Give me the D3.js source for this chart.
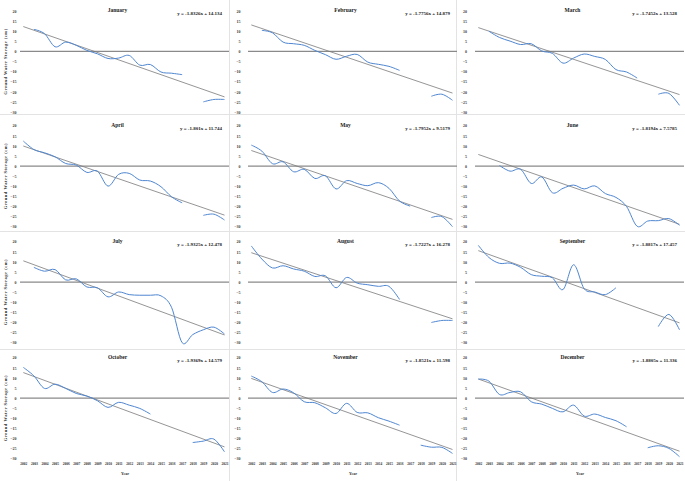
<!DOCTYPE html>
<html><head><meta charset="utf-8">
<script src="https://cdn.jsdelivr.net/npm/d3@7"></script>
<style>body{margin:0;background:#fff}svg{display:block}</style>
</head><body><svg id="c" width="685" height="481"></svg>
<script>
const years = ["2002","2003","2004","2005","2006","2007","2008","2009","2010","2011","2012","2013","2014","2015","2016","2017","2018","2019","2020","2021"];
const months = ["January","February","March","April","May","June","July","August","September","October","November","December"];
const equations = ["y = -1.8326x + 14.134","y = -1.7756x + 14.879","y = -1.7452x + 13.528","y = -1.801x + 11.744","y = -1.7952x + 9.5179","y = -1.8194x + 7.5785","y = -1.9325x + 12.478","y = -1.7227x + 16.278","y = -1.8817x + 17.457","y = -1.9369x + 14.579","y = -1.8521x + 11.598","y = -1.8805x + 11.336"];
const slopes = [-1.8326,-1.7756,-1.7452,-1.801,-1.7952,-1.8194,-1.9325,-1.7227,-1.8817,-1.9369,-1.8521,-1.8805];
const intercepts = [14.134,14.879,13.528,11.744,9.5179,7.5785,12.478,16.278,17.457,14.579,11.598,11.336];
const yTicks = [20,15,10,5,0,-5,-10,-15,-20,-25,-30];

const jan = [null,10.9,8.8,2.3,4.6,3.0,0.5,-1.2,-3.5,-3.3,-2.0,-6.8,-6.5,-10.2,-10.8,-11.5,null,-25.0,-23.8,-23.8];
const feb = [null,10.4,9.2,4.6,3.8,3.0,0.5,-1.6,-3.9,-2.4,-1.5,-5.3,-6.4,-7.4,-9.4,null,null,-22.2,-21.2,-24.2];
const mar = [null,10.0,6.9,5.1,3.4,3.8,0.2,-1.0,-5.8,-3.3,-1.3,-2.5,-4.0,-9.0,-10.2,-13.2,null,-21.2,-20.8,-26.7];
const apr = [12.4,8.2,6.6,4.6,1.3,0.5,-3.1,-2.5,-9.9,-4.1,-3.6,-6.9,-7.4,-10.2,-15.2,-18.2,null,-24.4,-23.8,-26.7];
const may = [10.4,7.4,1.2,2.1,-2.8,-1.6,-6.1,-4.8,-11.3,-7.2,-8.6,-9.7,-8.2,-11.0,-17.3,-19.8,null,-25.5,-25.0,-30.0];
const jun = [null,null,0.3,-2.5,-1.6,-8.6,-5.4,-13.2,-11.0,-9.4,-11.3,-9.8,-13.6,-15.5,-20.0,-29.8,-27.2,-27.0,-26.0,-29.3];
const jul = [null,7.3,5.4,6.2,1.1,1.6,-2.4,-2.8,-7.3,-4.9,-6.2,-6.5,-6.5,-6.8,-12.5,-30.0,-26.0,-23.6,-22.3,-25.7];
const aug = [17.9,11.4,7.0,8.1,6.5,5.4,2.8,3.1,-2.8,2.3,-0.5,-1.3,-2.1,-2.1,-8.6,null,null,-20.0,-19.0,-19.0];
const sep = [18.2,12.2,9.3,9.4,7.3,3.7,2.9,2.1,-3.7,8.6,-3.3,-4.9,-6.2,-2.8,null,null,null,-22.0,-16.0,-23.6];
const oct = [15.2,11.0,4.8,6.9,4.8,2.3,1.0,-1.3,-4.6,-2.1,-3.5,-5.1,-7.9,null,null,null,-22.0,-21.3,-20.3,-26.6];
const nov = [10.9,8.1,2.8,4.5,2.6,-1.8,-2.3,-4.8,-7.6,-2.6,-7.1,-7.3,-9.7,-11.4,-13.4,null,-23.3,-24.3,-24.4,-27.4];
const dec = [9.4,8.4,1.8,2.8,3.1,-1.8,-3.0,-5.1,-6.8,-3.5,-8.9,-7.9,-9.6,-11.2,-14.2,null,-24.6,-23.6,-24.9,-29.0];
const series = [jan,feb,mar,apr,may,jun,jul,aug,sep,oct,nov,dec];

const serif = "'Liberation Serif','Times New Roman',serif";
const svg = d3.select("#c");
const colX = [0, 228, 455];
const rowTop = [11, 125.7, 241.7, 357.7];
const tickX = [16.5, 12.5, 12];

// panel separators
[229.5, 456.5].forEach(px => svg.append("line").attr("x1",px).attr("x2",px).attr("y1",0).attr("y2",481).attr("stroke","#e3e3e3").attr("stroke-width",1));
[114.5, 231.5, 349.5].forEach(py => svg.append("line").attr("x1",0).attr("x2",685).attr("y1",py).attr("y2",py).attr("stroke","#e3e3e3").attr("stroke-width",1));

months.forEach((m, k) => {
  const c = k % 3, r = Math.floor(k / 3);
  const X0 = colX[c], top = rowTop[r];
  const x = d3.scalePoint().domain(years).range([X0 + 23.3, X0 + 224.5]);
  const y = d3.scaleLinear().domain([-30, 20]).range([top + 101, top]);
  const g = svg.append("g");

  const ax = g.append("g").attr("transform", `translate(${X0 + tickX[c]},0)`)
    .call(d3.axisLeft(y).tickValues(yTicks).tickSize(0).tickPadding(0));
  ax.select(".domain").remove();
  ax.selectAll("text").attr("font-family", serif).attr("font-weight", "bold").attr("font-size", 4).attr("fill", "#404040");

  g.append("line").attr("x1", X0 + 20).attr("x2", X0 + 229)
    .attr("y1", y(0)).attr("y2", y(0)).attr("stroke", "#8a8a8a").attr("stroke-width", 1.1);

  const trendPts = [0, years.length - 1].map(i => [years[i], slopes[k] * (i + 1) + intercepts[k]]);
  g.append("path").datum(trendPts)
    .attr("d", d3.line().x(d => x(d[0])).y(d => y(d[1])))
    .attr("fill", "none").attr("stroke", "#7a7a7a").attr("stroke-width", 0.8);

  const pts = years.map((yr, i) => [yr, series[k][i]]);
  g.append("path").datum(pts)
    .attr("d", d3.line().defined(d => d[1] != null).x(d => x(d[0])).y(d => y(d[1])).curve(d3.curveCardinal.tension(0)))
    .attr("fill", "none").attr("stroke", "#4f86d1").attr("stroke-width", 1);

  g.append("text").attr("x", X0 + 117.5).attr("y", top + 0.8).attr("text-anchor", "middle")
    .attr("font-family", serif).attr("font-weight", "bold").attr("font-size", 5.5).attr("fill", "#222").text(m);
  g.append("text").attr("x", X0 + 222).attr("y", top + 4.2).attr("text-anchor", "end")
    .attr("font-family", serif).attr("font-weight", "bold").attr("font-size", 5).attr("fill", "#222").text(equations[k]);

  if (c === 0) {
    g.append("text").attr("transform", `translate(5,${top + 50.5}) rotate(-90)`)
      .attr("text-anchor", "middle").attr("dominant-baseline", "central")
      .attr("font-family", serif).attr("font-weight", "bold").attr("font-size", 4.6).attr("letter-spacing", 0.45)
      .attr("fill", "#333").text("Ground Water Storage (cm)");
  }
  if (r === 3) {
    const bx = g.append("g").attr("transform", `translate(0,${top + 104.5})`)
      .call(d3.axisBottom(x).tickSize(0).tickPadding(0));
    bx.select(".domain").remove();
    bx.selectAll("text").attr("font-family", serif).attr("font-weight", "bold").attr("font-size", 3.5).attr("fill", "#333");
    g.append("text").attr("x", X0 + 125).attr("y", 474.6).attr("text-anchor", "middle")
      .attr("font-family", serif).attr("font-weight", "bold").attr("font-size", 4).attr("fill", "#333").text("Year");
  }
});
</script></body></html>
